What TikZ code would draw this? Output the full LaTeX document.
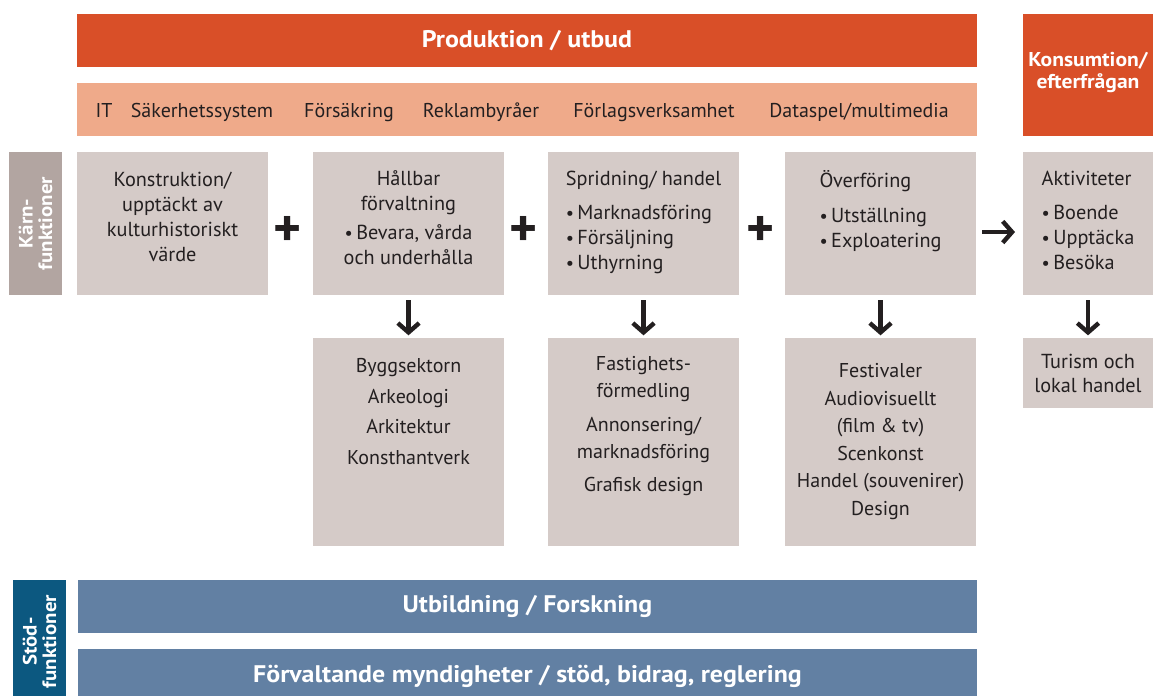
\documentclass[tikz,border=0pt]{standalone}
\usepackage{fontspec}
\setmainfont{PT Sans}
\newfontfamily\widefont[FakeStretch=1.08]{PT Sans}
\usepackage{graphicx}
\usepackage{xcolor}
\usepackage{tikz}
\usetikzlibrary{arrows.meta}
\definecolor{prodred}{RGB}{217,79,40}
\definecolor{sectorpink}{RGB}{239,170,138}
\definecolor{boxgray}{RGB}{213,203,200}
\definecolor{karngray}{RGB}{178,165,161}
\definecolor{stodblue}{RGB}{98,128,163}
\definecolor{stoddark}{RGB}{12,88,128}
\definecolor{ink}{RGB}{35,31,32}
\newcommand{\bp}{\scalebox{0.9}{\textbullet}\,}

\begin{document}
\begin{tikzpicture}[x=0.75pt, y=-0.75pt,
	every node/.style={inner sep=0pt, outer sep=0pt, text=ink},
	pxsize/.style 2 args={minimum width=#1*0.75pt, minimum height=#2*0.75pt},
	panel/.style={fill=#1, anchor=north west},
	headtext/.style={text=white, font=\widefont\bfseries\fontsize{18}{20}\selectfont},
	sidetext/.style={text=white, rotate=90, align=center, font=\widefont\bfseries\fontsize{14.5}{14.5}\selectfont},
	sector/.style={anchor=base, font=\fontsize{15}{18}\selectfont},
	maintext/.style={anchor=north, font=\fontsize{15.2}{18.75}\selectfont},
	subtext/.style={anchor=north, align=center, font=\fontsize{15}{22.9}\selectfont},
	plus/.style={font=\bfseries\fontsize{40}{40}\selectfont},
	flow/.style={line width=3.3pt, draw=ink, -{Straight Barb[length=7pt, width=16pt]}}
]
	\useasboundingbox (0,0) rectangle (1153,696);

	% production side
	\node[panel=prodred, pxsize={900}{53}, headtext] (prod) at (77,14) {Produktion / utbud};
	\node[panel=sectorpink, pxsize={900}{53}] (sector) at (77,83) {};
	\node[sector] (it) at (104,117) {IT};
	\node[sector] (sakerhet) at (202,117) {Säkerhetssystem};
	\node[sector] (forsakring) at (349,117) {Försäkring};
	\node[sector] (reklam) at (481,117) {Reklambyråer};
	\node[sector] (forlag) at (654,117) {Förlagsverksamhet};
	\node[sector] (dataspel) at (859,117) {Dataspel/multimedia};

	% consumption side
	\node[panel=prodred, pxsize={130}{122}] (kons) at (1023,14) {};
	\node[text=white, align=center, font=\widefont\bfseries\fontsize{15}{16}\selectfont]
		(konstext) at ([yshift=2pt]kons.center) {Konsumtion/\\efterfrågan};

	% core functions
	\node[panel=karngray, pxsize={53}{143}] (karn) at (9,152) {};
	\node[sidetext] (karntext) at (karn.center) {Kärn-\\funktioner};

	\node[panel=boxgray, pxsize={191}{143}] (b1) at (77,152) {};
	\node[panel=boxgray, pxsize={191}{143}] (b2) at (313,152) {};
	\node[panel=boxgray, pxsize={191}{143}] (b3) at (548,152) {};
	\node[panel=boxgray, pxsize={191}{143}] (b4) at (785,152) {};
	\node[panel=boxgray, pxsize={130}{143}] (b5) at (1023,152) {};

	\node[maintext, align=center] (t1) at ([yshift=-15pt]b1.north) {Konstruktion/\\upptäckt av\\kulturhistoriskt\\värde};
	\node[maintext, align=center] (t2) at ([yshift=-14pt]b2.north) {Hållbar\\förvaltning\\[3pt]\bp Bevara, vårda\\och underhålla};
	\node[maintext, align=left] (t3) at ([yshift=-14pt]b3.north) {Spridning/ handel\\[7pt]\bp Marknadsföring\\\bp Försäljning\\\bp Uthyrning};
	\node[maintext, align=left] (t4) at ([yshift=-14pt]b4.north) {Överföring\\[7pt]\bp Utställning\\\bp Exploatering};
	\node[maintext, align=left] (t5) at ([yshift=-14pt]b5.north) {Aktiviteter\\[7pt]\bp Boende\\\bp Upptäcka\\\bp Besöka};

	\node[plus] (plus1) at (288,231) {+};
	\node[plus] (plus2) at (524,231) {+};
	\node[plus] (plus3) at (761,231) {+};

	% related sectors
	\node[panel=boxgray, pxsize={191}{208}] (l2) at (313,338) {};
	\node[panel=boxgray, pxsize={191}{208}] (l3) at (548,338) {};
	\node[panel=boxgray, pxsize={191}{208}] (l4) at (785,338) {};
	\node[panel=boxgray, pxsize={130}{70}] (l5) at (1023,338) {};

	\node[subtext] (s2) at ([yshift=-15.5pt]l2.north) {Byggsektorn\\Arkeologi\\Arkitektur\\Konsthantverk};
	\node[subtext, font=\fontsize{15}{20}\selectfont] (s3) at ([yshift=-14pt]l3.north) {Fastighets-\\förmedling\\[5.6pt]Annonsering/\\marknadsföring\\[5pt]Grafisk design};
	\node[subtext, font=\fontsize{15}{20.7}\selectfont] (s4) at ([yshift=-19pt]l4.north) {Festivaler\\Audiovisuellt\\(film \& tv)\\Scenkonst\\Handel (souvenirer)\\Design};
	\node[align=center, font=\fontsize{15.2}{18}\selectfont] (s5) at (l5.center) {Turism och\\lokal handel};

	\draw[flow, shorten <=4pt, shorten >=2pt] (b2.south) -- (l2.north);
	\draw[flow, shorten <=4pt, shorten >=2pt] (b3.south) -- (l3.north);
	\draw[flow, shorten <=4pt, shorten >=2pt] (b4.south) -- (l4.north);
	\draw[flow, shorten <=4pt, shorten >=2pt] (b5.south) -- (l5.north);
	\draw[flow, shorten <=4.5pt, shorten >=6pt] ([yshift=-6.4pt]b4.east) -- ([yshift=-6.4pt]b5.west);

	% support functions
	\node[panel=stoddark, pxsize={53}{123}] (stod) at (13,580) {};
	\node[sidetext] (stodtext) at (stod.center) {Stöd-\\funktioner};
	\node[panel=stodblue, pxsize={899}{53}, headtext] (utb) at (78,580) {Utbildning / Forskning};
	\node[panel=stodblue, pxsize={899}{54}, headtext] (forv) at (78,649) {Förvaltande myndigheter / stöd, bidrag, reglering};
\end{tikzpicture}
\end{document}
